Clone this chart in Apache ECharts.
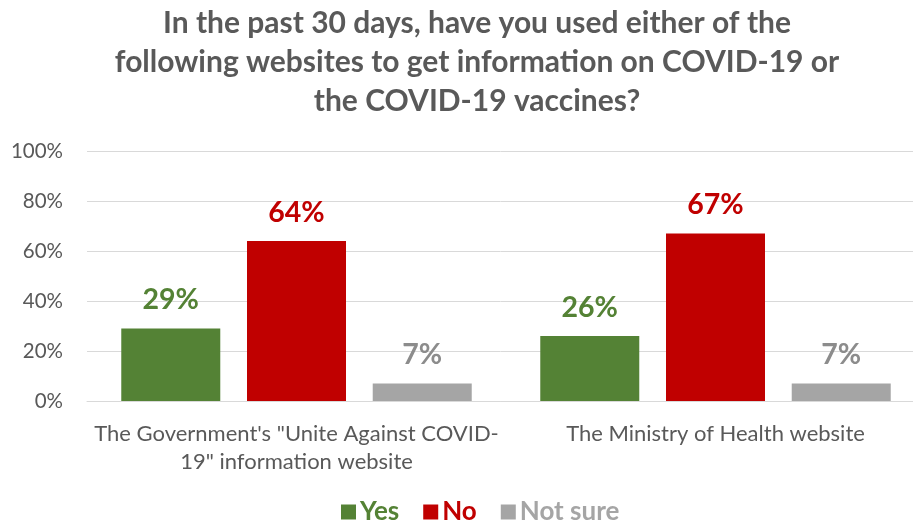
<!DOCTYPE html>
<html><head><meta charset="utf-8">
<script src="https://cdn.jsdelivr.net/npm/echarts@6/dist/echarts.min.js"></script>
<style>html,body{margin:0;padding:0;background:#fff}#c{width:913px;height:528px}</style>
</head><body><div id="c"></div>
<script>
const categories = ["The Government's \"Unite Against COVID-\n19\" information website", "The Ministry of Health website"];
const seriesNames = ["Yes", "No", "Not sure"];
const yesValues = [29, 26];
const noValues = [64, 67];
const notSureValues = [7, 7];
const yTicks = [0, 20, 40, 60, 80, 100];
const colors = ["#548235", "#C00000", "#A5A5A5"];
const labelColors = ["#548235", "#C00000", "#8C8C8C"];
const FONT = "Lato, 'Liberation Sans', sans-serif";

const chart = echarts.init(document.getElementById('c'));
const vals = [yesValues, noValues, notSureValues];
chart.setOption({
  animation: false,
  title: {
    text: "In the past 30 days, have you used either of the\nfollowing websites to get information on COVID-19 or\nthe COVID-19 vaccines?",
    left: 472, top: -1, textAlign: 'center',
    textStyle: {fontFamily: FONT, fontSize: 30, fontWeight: 'bold', color: '#595959', lineHeight: 39}
  },
  legend: {
    bottom: -2, left: 336, itemWidth: 15, itemHeight: 15, itemGap: 24, icon: 'rect',
    data: seriesNames.map((n, i) => ({name: n, textStyle: {color: colors[i]}})),
    textStyle: {fontFamily: FONT, fontSize: 26, fontWeight: 'bold', padding: [0,0,0,-1]}
  },
  grid: {left: 87, top: 151, width: 838, height: 250, containLabel: false, outerBoundsMode: 'none'},
  xAxis: {
    type: 'category', data: categories,
    axisLine: {lineStyle: {color: '#D9D9D9', width: 1}},
    axisTick: {show: false},
    axisLabel: {fontFamily: FONT, fontSize: 22, color: '#595959', lineHeight: 28, margin: 19, interval: 0}
  },
  yAxis: {
    type: 'value', min: 0, max: 100, interval: 20,
    axisLine: {show: false}, axisTick: {show: false},
    splitLine: {lineStyle: {color: '#D9D9D9', width: 1}},
    axisLabel: {fontFamily: FONT, fontSize: 20.5, color: '#595959', margin: 24, formatter: v => yTicks.includes(v) ? v + '%' : ''}
  },
  series: seriesNames.map((n, i) => ({
    name: n, type: 'bar', data: vals[i], barWidth: 99, barGap: '27%',
    itemStyle: {color: colors[i]},
    label: {show: true, position: 'top', distance: 14, formatter: '{c}%',
      fontFamily: FONT, fontSize: 28.5, fontWeight: 'bold', color: labelColors[i]}
  }))
});
</script></body></html>
